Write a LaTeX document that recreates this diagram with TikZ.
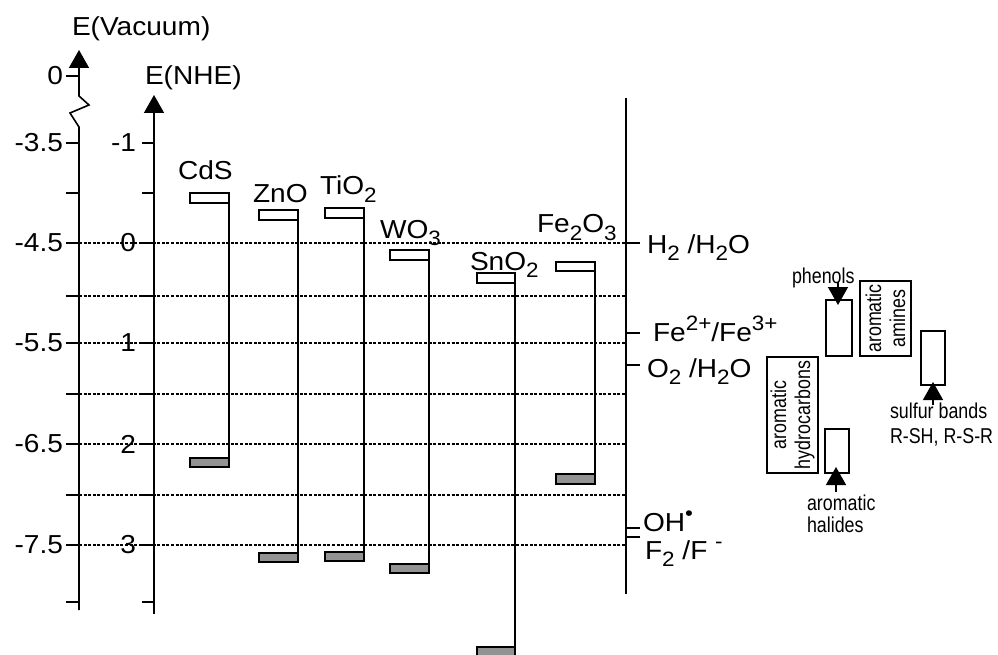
\documentclass[tikz,border=0pt]{standalone}
\usepackage{graphicx}
\usepackage{fontspec}
\setmainfont{Liberation Sans}[FakeStretch=1.08]
\newfontfamily\orgfont{Liberation Sans}[FakeStretch=0.83]
\usetikzlibrary{arrows.meta}
\newcommand\dn[1]{\raisebox{-0.3em}{\scalebox{0.8}{#1}}}
\newcommand\up[1]{\raisebox{0.42em}{\scalebox{0.8}{#1}}}
\newcommand\bandpair[7]{%
  \node[cbbox, minimum width={(#3-#2)*1pt}, minimum height={(#5-#4)*1pt}] (#1cb) at ({(#2+#3)/2},{(#4+#5)/2}) {};
  \node[vbbox, minimum width={(#3-#2)*1pt}, minimum height={(#7-#6)*1pt}] (#1vb) at ({(#2+#3)/2},{(#6+#7)/2}) {};
  \draw[bandline] (#1cb.south east) -- (#1vb.north east);
}
\tikzset{
  every node/.style={inner sep=0pt, outer sep=0pt},
  lab/.style={font=\fontsize{26}{30}\selectfont},
  org/.style={font=\orgfont\fontsize{21.5}{24}\selectfont},
  axisline/.style={line width=1.6pt, -{Triangle[width=20pt,length=18pt]}},
  tickmark/.style={line width=2.6pt},
  dotline/.style={line width=1.5pt, dash pattern=on 3pt off 1.6pt},
  cbbox/.style={draw, fill=white, line width=1.5pt, rectangle},
  vbbox/.style={draw, fill=gray!85, line width=1.7pt, rectangle},
  bandline/.style={line width=1.5pt},
  orgbox/.style={draw, line width=1.4pt, rectangle},
  orgarrow/.style={line width=1.5pt, -{Triangle[width=20pt,length=18pt]}},
}
\begin{document}
\begin{tikzpicture}[x=1pt,y=-1pt]
\path[use as bounding box, fill=white] (0,0) rectangle (998,655);

% dotted reference lines
\foreach \y in {243,296,343,394,444,495,545}
  \draw[dotline] (79,\y) -- (626,\y);

% vacuum axis
\coordinate (vbot) at (79,610);
\coordinate (vtop) at (79,50);
\draw[axisline] (vbot) -- (79,127) -- (70,113) -- (89,105) -- (79,96) -- (vtop);
\foreach \y in {76,143,193,243,296,343,394,444,495,545,602}
  \draw[tickmark] (66,\y) -- (79,\y);
\foreach \y/\t/\i in {76/0/a,143/-3.5/b,243/-4.5/c,343/-5.5/d,444/-6.5/e,545/-7.5/f}
  \node[lab, anchor=east] (vl\i) at (63,\y) {\t};
\node[lab, anchor=base west] (vacname) at (72,36) {E(Vacuum)};

% NHE axis
\coordinate (nbot) at (154,614);
\coordinate (ntop) at (154,95);
\draw[axisline] (nbot) -- (ntop);
\foreach \y in {143,193,243,296,343,394,444,495,545,602}
  \draw[tickmark] (142,\y) -- (154,\y);
\foreach \y/\t/\i in {143/-1/a,243/0/b,343/1/c,444/2/d,545/3/e}
  \node[lab, anchor=east] (nl\i) at (136,\y) {\t};
\node[lab, anchor=base west] (nhename) at (145,85) {E(NHE)};

% bands
\bandpair{cds}{190}{229}{193}{203}{458}{467}
\bandpair{zno}{259}{298}{210}{220}{553}{562}
\bandpair{tio}{325}{364}{208}{218}{552}{561}
\bandpair{wo}{390}{429}{250}{260}{564}{573}
\bandpair{sno}{477}{515}{273}{283}{647}{656}
\bandpair{feo}{556}{595}{262}{271}{474}{484}

\node[lab, anchor=base west] (cdsname) at (178,180) {CdS};
\node[lab, anchor=base west] (znoname) at (253,203) {ZnO};
\node[lab, anchor=base west] (tioname) at (320,195) {TiO\dn{2}};
\node[lab, anchor=base west] (woname) at (380,238) {WO\dn{3}};
\node[lab, anchor=base west] (snoname) at (470,270) {SnO\dn{2}};
\node[lab, anchor=base west] (feoname) at (537,233) {Fe\dn{2}O\dn{3}};

% right potential line
\coordinate (rtop) at (626,98);
\coordinate (rbot) at (626,594);
\draw[bandline] (rtop) -- (rbot);
\foreach \y in {243,333,365,528,537}
  \draw[tickmark] (626,\y) -- (640,\y);
\node[lab, anchor=base west] (hh) at (647,253) {H\dn{2} /H\dn{2}O};
\node[lab, anchor=base west] (fefe) at (653,341) {Fe\up{2+}/Fe\up{3+}};
\node[lab, anchor=base west] (oh2o) at (647,377) {O\dn{2} /H\dn{2}O};
\node[lab, anchor=base west] (ohrad) at (643,531) {OH\up{•}};
\node[lab, anchor=base west] (ff) at (645,559) {F\dn{2} /F \up{-}};

% organic compounds
\node[org, anchor=base west] (phen) at (792,283) {phenols};
\node[orgbox, minimum width=26pt, minimum height=56pt] (phbox) at (839,328) {};
\coordinate (pha) at (838,282);
\coordinate (phb) at (838,305);
\draw[orgarrow] (pha) -- (phb);

\node[orgbox, org, rotate=90, align=center, minimum width=75pt, minimum height=51pt] (amin) at (885.5,318.5) {aromatic\\amines};

\node[orgbox, minimum width=24pt, minimum height=54pt] (sulbox) at (933,358) {};
\coordinate (sula) at (933,405);
\coordinate (sulb) at (933,382);
\draw[orgarrow] (sula) -- (sulb);
\node[org, anchor=base west] (sulname) at (890,418) {sulfur bands};
\node[org, anchor=base west] (rsh) at (890,443) {R-SH, R-S-R};

\node[orgbox, org, rotate=90, align=center, minimum width=116pt, minimum height=51pt] (hydro) at (792.5,415) {aromatic\\hydrocarbons};

\node[orgbox, minimum width=24pt, minimum height=44pt] (halbox) at (837,451) {};
\coordinate (hala) at (836,492);
\coordinate (halb) at (836,467);
\draw[orgarrow] (hala) -- (halb);
\node[org, anchor=base west] (halname1) at (807,510) {aromatic};
\node[org, anchor=base west] (halname2) at (807,532) {halides};
\end{tikzpicture}
\end{document}
